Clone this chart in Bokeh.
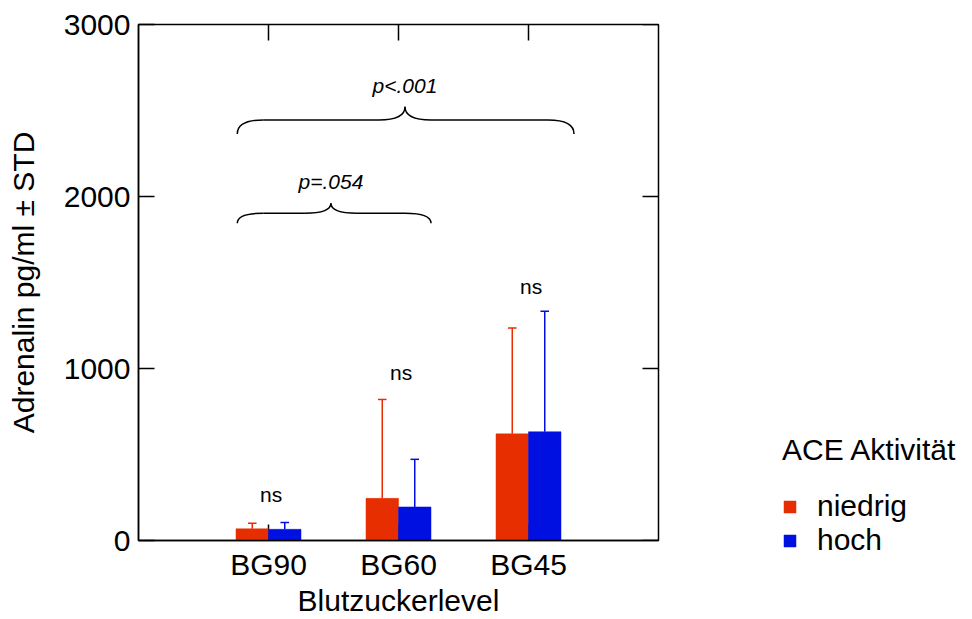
from bokeh.plotting import figure
from bokeh.models import (Range1d, LinearAxis, FixedTicker, Legend, LegendItem,
                          ColumnDataSource)
from bokeh.core.properties import value
from bokeh.embed import file_html
from bokeh.resources import INLINE

# ---------------- data ----------------
categories = ["BG90", "BG60", "BG45"]
cat_pos = [1, 2, 3]
niedrig_mean = [68, 245, 620]
niedrig_upper = [100, 820, 1235]      # mean + STD
hoch_mean = [65, 195, 632]
hoch_upper = [105, 472, 1333]         # mean + STD
ns_labels = ["ns", "ns", "ns"]
ns_y = [268, 975, 1476]
y_ticks = [0, 1000, 2000, 3000]

# significance brackets: left end, right end, cusp, end height, bar height, cusp height
br_x0 = [0.76, 0.76]
br_x1 = [2.25, 3.35]
br_xc = [1.48, 2.05]
br_yend = [1845, 2364]
br_yh = [1903, 2445]
br_ycusp = [1961, 2522]
br_text = ["p=.054", "p<.001"]
br_text_y = [2087, 2648]

RED = "#E62E00"
BLUE = "#0010E0"
FONT = "Liberation Sans"
BIG = "30px"

X0, X1, Y0, Y1 = 0, 4, 0, 3000
FRAME_W, FRAME_H = 520, 517
TICK_PX = 16
tick_dx = TICK_PX * (X1 - X0) / FRAME_W
tick_dy = TICK_PX * (Y1 - Y0) / FRAME_H

p = figure(frame_width=FRAME_W, height=619, x_range=Range1d(X0, X1),
           y_range=Range1d(Y0, Y1), output_backend="svg", toolbar_location=None,
           min_border_left=138, min_border_right=0, min_border_top=24,
           min_border_bottom=0)
p.xaxis.visible = False
p.yaxis.visible = False
p.grid.visible = False
p.outline_line_color = "black"
p.outline_line_width = 1.5
p.background_fill_color = "white"
p.border_fill_color = "white"


def style_axis(ax):
    ax.axis_line_color = "black"
    ax.axis_line_width = 1.5
    ax.major_tick_line_color = "black"
    ax.major_tick_line_width = 1.5
    ax.minor_tick_line_color = None
    ax.major_label_text_font = FONT
    ax.major_label_text_font_size = BIG
    ax.major_label_text_color = "black"
    ax.axis_label_text_font = FONT
    ax.axis_label_text_font_size = BIG
    ax.axis_label_text_font_style = "normal"
    ax.axis_label_text_color = "black"


left = LinearAxis(ticker=FixedTicker(ticks=y_ticks), axis_label="Adrenalin pg/ml ± STD")
style_axis(left)
left.major_tick_in = TICK_PX
left.major_tick_out = 0
left.major_label_standoff = 8
left.axis_label_standoff = 21
p.add_layout(left, "left")

bottom = LinearAxis(ticker=FixedTicker(ticks=cat_pos), axis_label="Blutzuckerlevel",
                    major_label_overrides={c: l for c, l in zip(cat_pos, categories)})
style_axis(bottom)
bottom.major_tick_in = 0
bottom.major_tick_out = 0
bottom.major_label_standoff = 7
bottom.axis_label_standoff = 0
p.add_layout(bottom, "below")

# inward ticks on the bottom / top (categories) and right (values) edges
p.segment(x0=cat_pos, y0=[Y0] * 3, x1=cat_pos, y1=[Y0 + tick_dy] * 3,
          line_color="black", line_width=1.5)
p.segment(x0=cat_pos, y0=[Y1] * 3, x1=cat_pos, y1=[Y1 - tick_dy] * 3,
          line_color="black", line_width=1.5)
p.segment(x0=[X1] * len(y_ticks), y0=y_ticks, x1=[X1 - tick_dx] * len(y_ticks), y1=y_ticks,
          line_color="black", line_width=1.5)

# bars
bw = 0.25
src_n = ColumnDataSource(dict(x=[c - bw / 2 for c in cat_pos], top=niedrig_mean,
                              up=niedrig_upper))
src_h = ColumnDataSource(dict(x=[c + bw / 2 for c in cat_pos], top=hoch_mean,
                              up=hoch_upper))

cap = 0.033
for src, col in ((src_n, RED), (src_h, BLUE)):
    d = src.data
    p.segment(x0=d["x"], y0=d["top"], x1=d["x"], y1=d["up"], line_color=col, line_width=1.5)
    p.segment(x0=[x - cap for x in d["x"]], y0=d["up"], x1=[x + cap for x in d["x"]],
              y1=d["up"], line_color=col, line_width=1.5)

r_n = p.vbar(x="x", top="top", bottom=0, width=bw, source=src_n, fill_color=RED,
             line_color=RED, line_width=0.5)
r_h = p.vbar(x="x", top="top", bottom=0, width=bw, source=src_h, fill_color=BLUE,
             line_color=BLUE, line_width=0.5)

# ns labels
p.text(x=[c + 0.02 for c in cat_pos], y=ns_y, text=ns_labels, text_font=value(FONT),
       text_font_size="21px", text_align="center", text_baseline="middle",
       text_color="black")

# brackets
dd = 0.2
for x0, x1, xc, ye, yh, yc in zip(br_x0, br_x1, br_xc, br_yend, br_yh, br_ycusp):
    p.quadratic(x0=[x0, xc - dd, xc, x1 - dd], y0=[ye, yh, yc, yh],
                x1=[x0 + dd, xc, xc + dd, x1], y1=[yh, yc, yh, ye],
                cx=[x0, xc, xc, x1], cy=[yh, yh, yh, yh],
                line_color="black", line_width=1.5)
    p.segment(x0=[x0 + dd, xc + dd], y0=[yh, yh], x1=[xc - dd, x1 - dd], y1=[yh, yh],
              line_color="black", line_width=1.5)
p.text(x=br_xc, y=br_text_y, text=br_text, text_font=value(FONT),
       text_font_size="21px", text_font_style="italic", text_align="center",
       text_baseline="middle", text_color="black")

# legend (in the right-hand panel)
legend = Legend(items=[LegendItem(label="niedrig", renderers=[r_n]),
                       LegendItem(label="hoch", renderers=[r_h])],
                title="ACE Aktivität", title_text_font=FONT, title_text_font_size=BIG,
                title_text_font_style="normal", title_text_color="black",
                title_standoff=22,
                location=(124, -17), padding=0, margin=0, spacing=0,
                glyph_width=15, glyph_height=15, label_standoff=20,
                label_text_font=FONT, label_text_font_size=BIG,
                label_text_color="black", border_line_color=None,
                background_fill_alpha=0)
p.add_layout(legend, "right")

open("out.html", "w").write(file_html(p, INLINE))
